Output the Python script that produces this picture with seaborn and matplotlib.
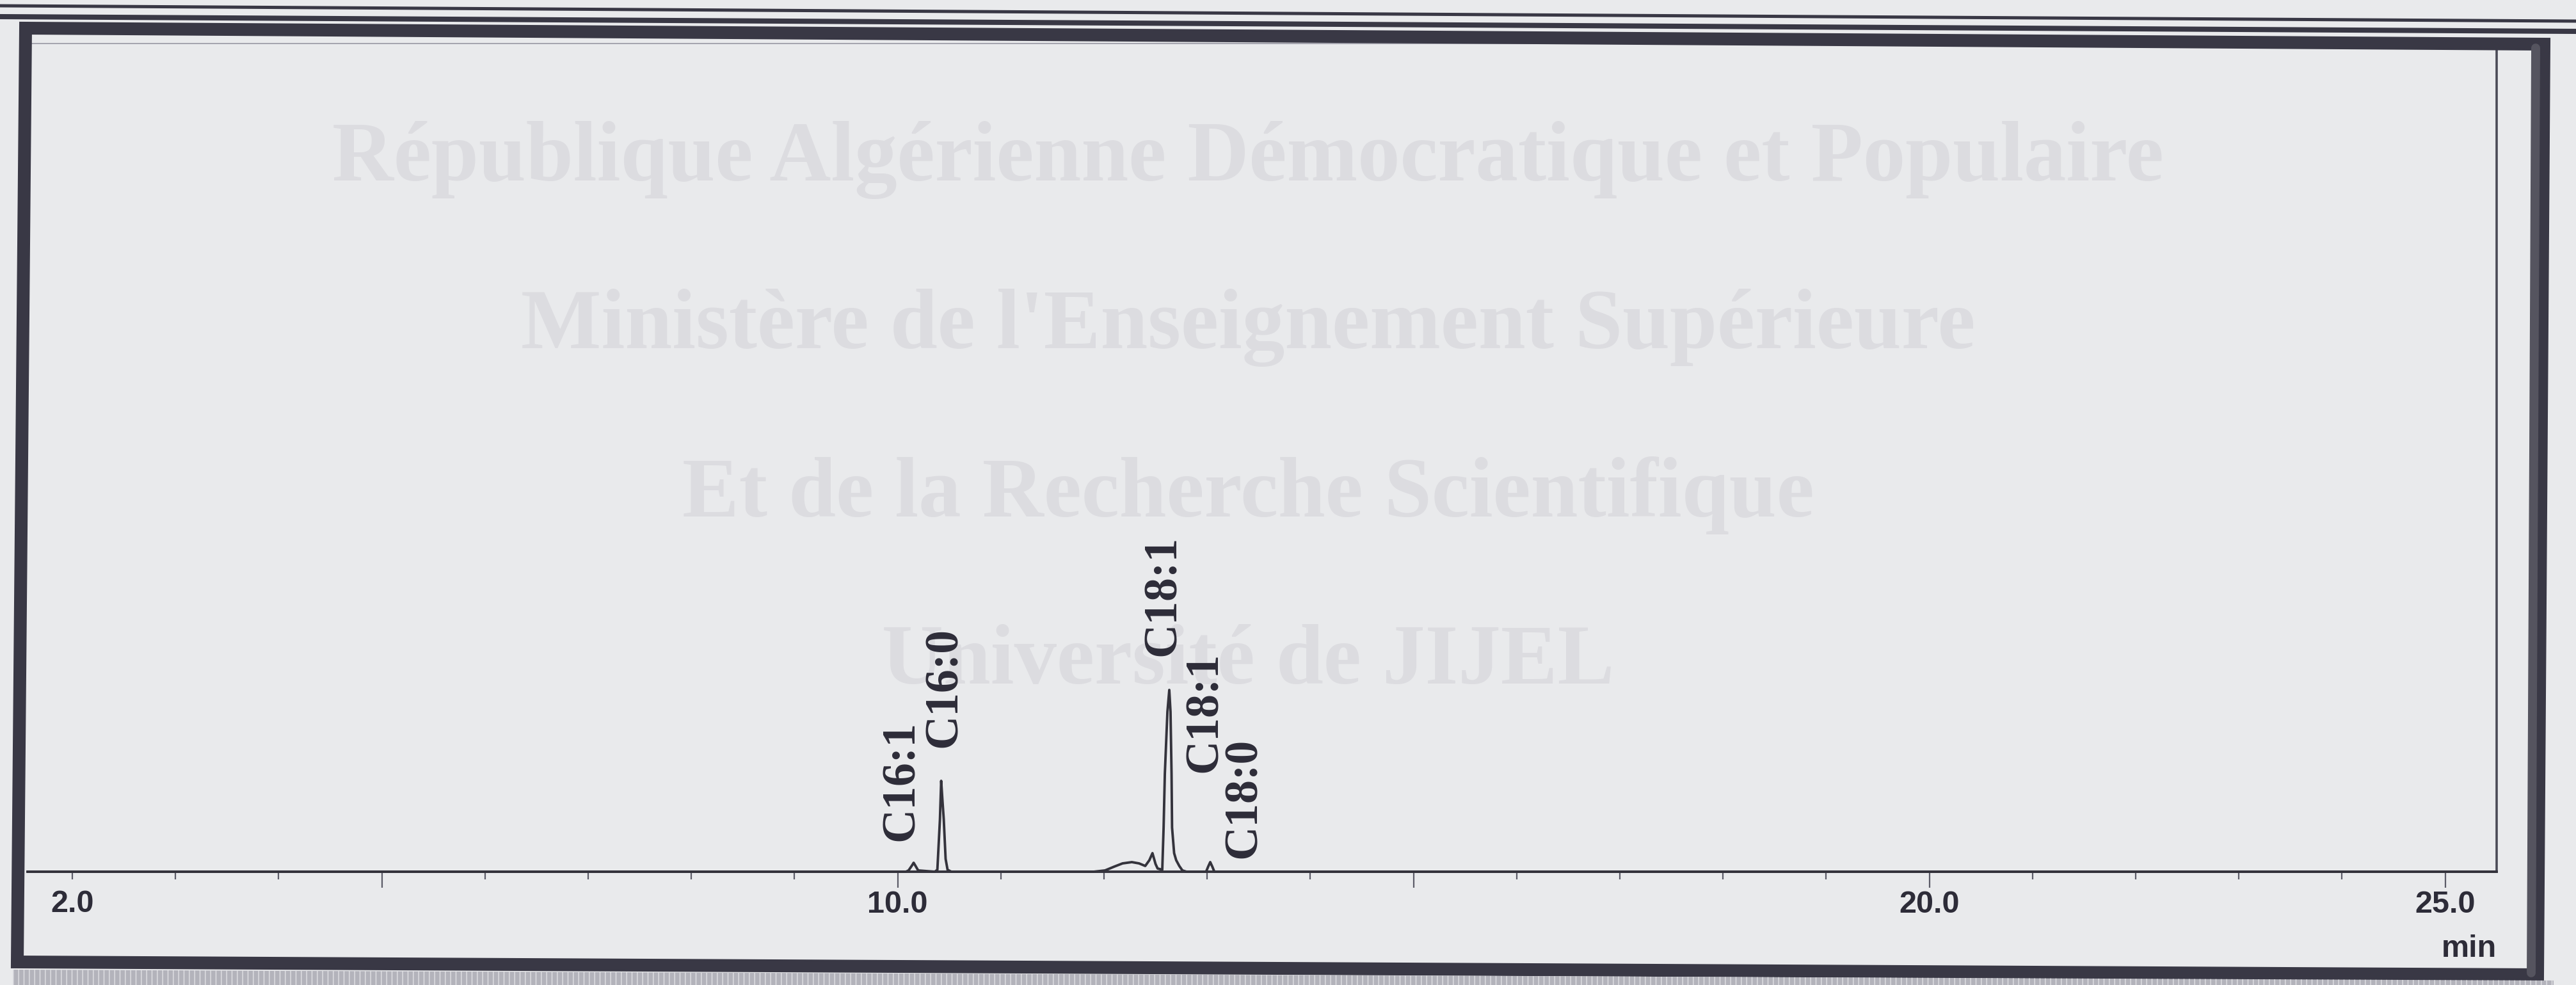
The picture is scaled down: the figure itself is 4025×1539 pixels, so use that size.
import numpy as np
import pandas as pd
import matplotlib
matplotlib.use("Agg")
import matplotlib.pyplot as plt
from matplotlib.lines import Line2D
from matplotlib.patches import Polygon
from matplotlib.ticker import FixedLocator, FixedFormatter
from matplotlib import font_manager
import seaborn as sns

# ---- chromatogram trace: retention time (min) and detector signal (mV) ----
time_min = [1.566, 10.08, 10.106, 10.14, 10.155, 10.17, 10.199,
            10.36, 10.385, 10.41, 10.422, 10.435, 10.447, 10.465, 10.484, 10.52,
            11.90, 12.01, 12.10, 12.18, 12.27, 12.34, 12.40, 12.44, 12.47, 12.50,
            12.52, 12.545, 12.565, 12.578, 12.59, 12.615, 12.633, 12.645, 12.655,
            12.66, 12.68, 12.70, 12.73, 12.76, 12.80,
            12.99, 13.01, 13.03, 13.05, 13.07, 25.50]
signal_mv = [0.0, 0.0, 0.2, 1.0, 1.4, 1.0, 0.2,
             0.0, 0.3, 8.2, 14.2, 11.0, 8.2, 2.0, 0.3, 0.0,
             0.0, 0.2, 0.8, 1.3, 1.5, 1.3, 0.9, 1.8, 2.9, 1.2,
             0.5, 0.4, 0.3, 6.9, 15.3, 25.0, 28.4, 25.0, 15.3,
             6.9, 2.9, 1.8, 0.9, 0.2, 0.0,
             0.0, 0.8, 1.5, 0.8, 0.0, 0.0]

# ---- identified peaks ----
peak_names = ["C16:1", "C16:0", "C18:1", "C18:1", "C18:0"]
peak_times = [10.155, 10.422, 12.633, 12.66, 13.03]
peak_heights = [1.4, 14.2, 28.4, 6.9, 1.5]

# ---- x axis ticks ----
major_ticks = [5, 10, 15, 20, 25]
major_labels = ["", "10.0", "", "20.0", "25.0"]
minor_ticks = [2, 3, 4, 6, 7, 8, 9, 11, 12, 13, 14, 16, 17, 18, 19, 21, 22, 23, 24]
minor_labels = ["2.0"] + [""] * 18
axis_unit = "min"

# ---- letterhead printed on the sheet ----
letterhead_lines = ["République Algérienne Démocratique et Populaire",
                    "Ministère de l'Enseignement Supérieure",
                    "Et de la Recherche Scientifique",
                    "Université de JIJEL"]

# ---- layout / style ----
W, H = 4025, 1539
PAPER = "#e9eaec"
INK = "#393845"
TRACE = "#34333c"
LABEL = "#2d2c38"
TICK = "#5c5c68"
GHOST = "#dcdce0"
label_offsets_pt = [(-13.4, 24.5), (3.9, 37.4), (-6.5, 38.2), (37.1, 62.0), (38.0, 4.3)]

sns.set_theme(style="white")
available = {f.name for f in font_manager.fontManager.ttflist}
tick_family = "Liberation Sans"
for cand in ["Liberation Sans Narrow", "DejaVu Sans Condensed", "Liberation Sans"]:
    if cand in available:
        tick_family = cand
        break
plt.rcParams["font.family"] = [tick_family, "DejaVu Sans"]
plt.rcParams["font.weight"] = "bold"

fig = plt.figure(figsize=(W / 100, H / 100), dpi=100, facecolor=PAPER)


def fxy(x, y):
    return (x / W, 1 - y / H)


# letterhead text showing faintly through the sheet
ghost_texts = []
for line, yb in zip(letterhead_lines, [282, 544, 807, 1068]):
    t = fig.text(*fxy(1950, yb), line, ha="center", va="baseline", fontsize=100,
                 family="Liberation Serif", weight="bold", color=GHOST, zorder=-2)
    ghost_texts.append(t)
fig.canvas.draw()
w0 = ghost_texts[0].get_window_extent().width
ghost_size = 100 * 2862 / w0
for t in ghost_texts:
    t.set_fontsize(ghost_size)

# plot area
ax = fig.add_axes([43 / W, 1 - 1362 / H, (3901 - 43) / W, (1362 - 68) / H])
ax.patch.set_alpha(0)

df = pd.DataFrame({"time": time_min, "signal": signal_mv})
sns.lineplot(data=df, x="time", y="signal", ax=ax, estimator=None, sort=False,
             color=TRACE, linewidth=2.8, zorder=5)
for ln in ax.lines:
    ln.set_clip_on(False)
    ln.set_solid_joinstyle("round")

ax.set_xlim(1.566, 25.499)
ax.set_ylim(0, 129.4)
ax.set_xlabel("")
ax.set_ylabel("")
ax.set_yticks([])

ax.spines["left"].set_visible(False)
ax.spines["top"].set_color("#a4a4ae")
ax.spines["top"].set_linewidth(1.4)
ax.spines["right"].set_color("#4a4a56")
ax.spines["right"].set_linewidth(2.6)
ax.spines["bottom"].set_color(TRACE)
ax.spines["bottom"].set_linewidth(2.8)

ax.xaxis.set_major_locator(FixedLocator(major_ticks))
ax.xaxis.set_major_formatter(FixedFormatter(major_labels))
ax.xaxis.set_minor_locator(FixedLocator(minor_ticks))
ax.xaxis.set_minor_formatter(FixedFormatter(minor_labels))
ax.tick_params(axis="x", which="major", bottom=True, direction="out", length=18, width=1.6,
               color=TICK, pad=2.6, labelsize=35, labelcolor=LABEL)
ax.tick_params(axis="x", which="minor", bottom=True, direction="out", length=8.6, width=1.6,
               color=TICK, pad=11.9, labelsize=35, labelcolor=LABEL)

ax.text(1.0, -0.1028, axis_unit, transform=ax.transAxes, ha="right", va="baseline",
        fontsize=35, family=tick_family, weight="bold", color=LABEL)

# peak names, rotated above each peak
for name, t, h, (dx, dy) in zip(peak_names, peak_times, peak_heights, label_offsets_pt):
    ax.annotate(name, xy=(t, h), xytext=(dx, dy), textcoords="offset points",
                rotation=90, ha="center", va="bottom", fontsize=53,
                family="Liberation Serif", weight="bold", color=LABEL,
                annotation_clip=False, zorder=6)

# page frame: two thin rules and a heavy box
for (x0, y0, x1, y1, lw) in [(0, 9, W, 33, 3.6), (0, 26, W, 49, 5.8)]:
    fig.add_artist(Line2D([x0 / W, x1 / W], [1 - y0 / H, 1 - y1 / H], color=INK,
                          linewidth=lw, transform=fig.transFigure))
box = Polygon([fxy(40, 44), fxy(3975, 69), fxy(3965, 1523), fxy(27, 1503)], closed=True,
              fill=False, edgecolor=INK, linewidth=14.4, joinstyle="miter",
              transform=fig.transFigure)
fig.add_artist(box)
fig.add_artist(Line2D([3962 / W, 3955 / W], [1 - 75 / H, 1 - 1520 / H], color="#55545f",
                      linewidth=10, transform=fig.transFigure))
strip = Polygon([fxy(20, 1515), fxy(3990, 1532), fxy(3990, 1539), fxy(20, 1539)], closed=True,
                facecolor="#b3b3bb", edgecolor="#e2e2e6", hatch="||", linewidth=0,
                transform=fig.transFigure)
fig.add_artist(strip)

fig.savefig("out.png", dpi=100, facecolor=PAPER)
